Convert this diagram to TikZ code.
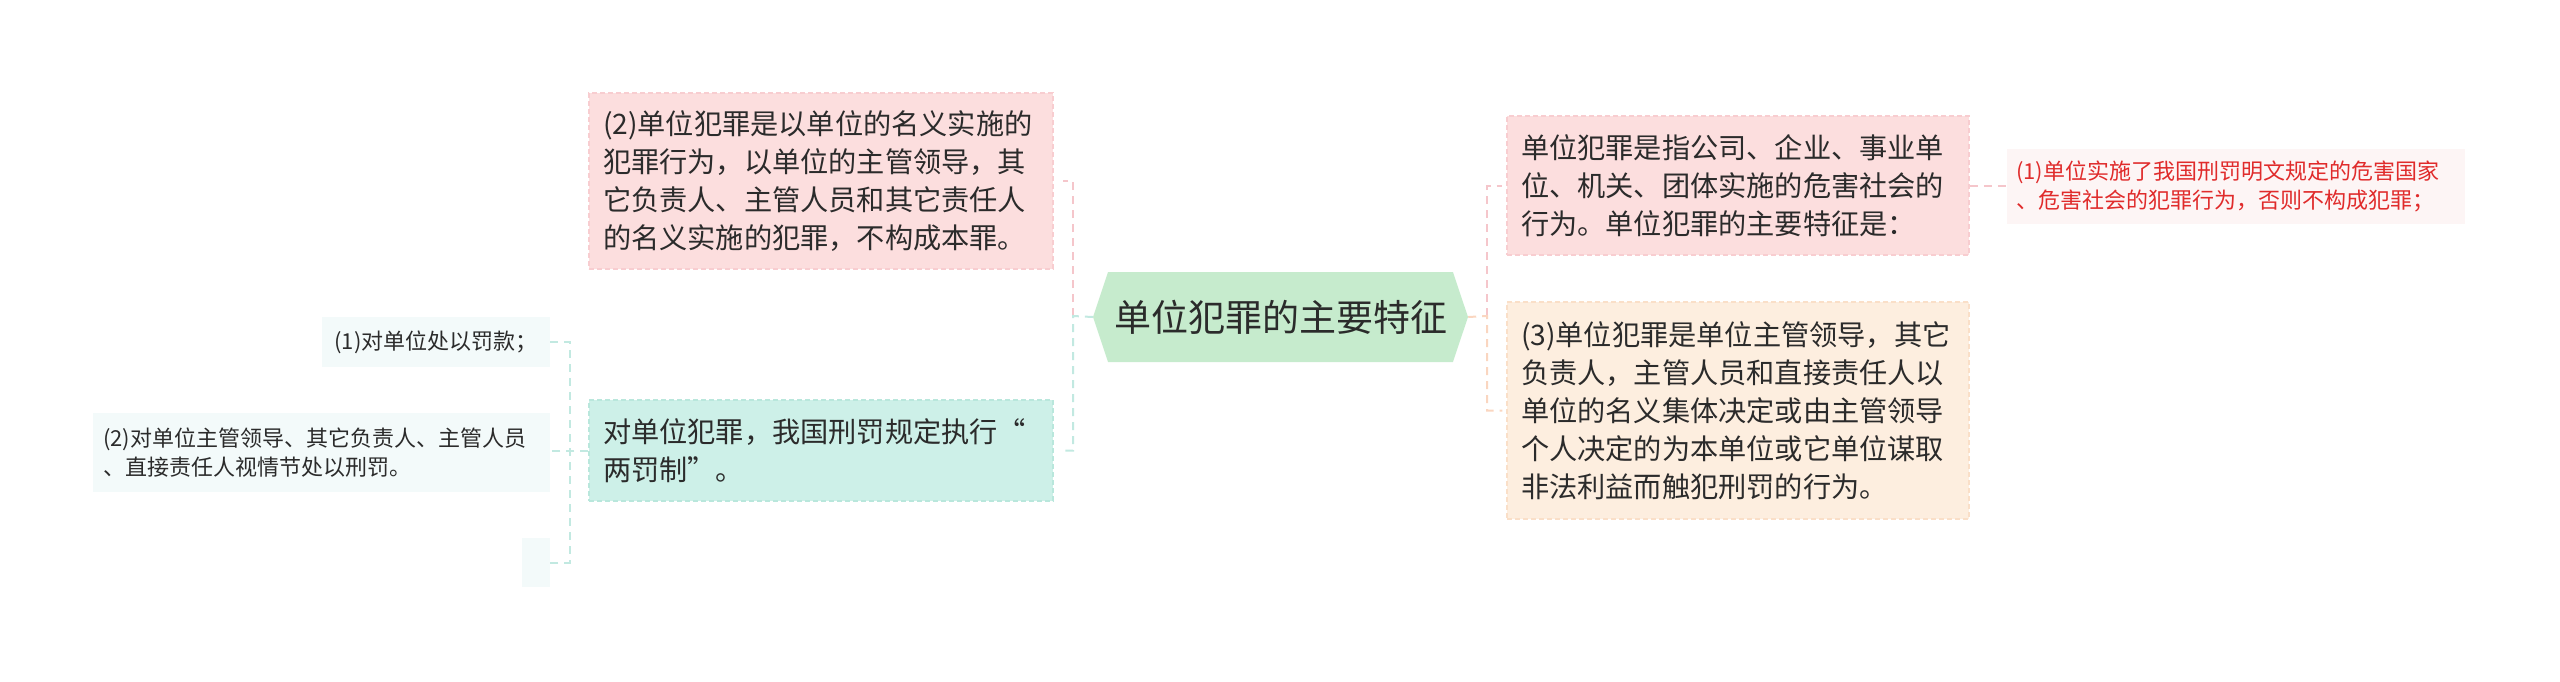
\documentclass[tikz,border=0pt]{standalone}
\usepackage{fontspec}
\setmainfont{Noto Sans CJK SC}
\usetikzlibrary{shapes.symbols}
\definecolor{txt}{HTML}{2B2B2B}
\definecolor{hexfill}{HTML}{C6EBCD}
\definecolor{pinkfill}{HTML}{FCDEDE}
\definecolor{pinkborder}{HTML}{F8CDD0}
\definecolor{pinkline}{HTML}{F5C6CB}
\definecolor{tealfill}{HTML}{CDF0E8}
\definecolor{tealborder}{HTML}{B9E7DC}
\definecolor{tealline}{HTML}{C2E9E1}
\definecolor{orgfill}{HTML}{FDEEDF}
\definecolor{orgborder}{HTML}{FADFC8}
\definecolor{orgline}{HTML}{FAD6C0}
\definecolor{leaffill}{HTML}{F3FAFA}
\definecolor{redfill}{HTML}{FDF5F5}
\definecolor{redtxt}{HTML}{E02B2B}
\begin{document}
\begin{tikzpicture}[x=1pt,y=-1pt,
  box/.style={rectangle, inner sep=0pt, align=left, text=txt,
    font=\fontsize{28.2pt}{38pt}\selectfont, dash pattern=on 5pt off 3pt, line width=1.5pt},
  leaf/.style={rectangle, inner sep=0pt, align=left, text=txt,
    font=\fontsize{22pt}{29pt}\selectfont},
  conn/.style={line width=2pt, dash pattern=on 8pt off 6pt},
]
\useasboundingbox (0,0) rectangle (2560,681);

% central node
\node[signal, signal to=west and east, signal pointer angle=143, fill=hexfill,
  minimum width=375pt, minimum height=90pt, inner sep=0pt, text=txt,
  font=\fontsize{37pt}{42pt}\selectfont] (hex) at (1280.5,317) {单位犯罪的主要特征};

% left branch boxes
\node[box, fill=pinkfill, draw=pinkborder, minimum width=464pt, minimum height=176pt,
  text width=436pt] (b1) at (821,181)
  {(2)单位犯罪是以单位的名义实施的\\犯罪行为，以单位的主管领导，其\\它负责人、主管人员和其它责任人\\的名义实施的犯罪，不构成本罪。};
\node[box, fill=tealfill, draw=tealborder, minimum width=464pt, minimum height=101pt,
  text width=436pt] (b2) at (821,450.5)
  {对单位犯罪，我国刑罚规定执行“\\两罚制”。};

% right branch boxes
\node[box, fill=pinkfill, draw=pinkborder, minimum width=462pt, minimum height=139pt,
  text width=434pt] (b3) at (1738,185.5)
  {单位犯罪是指公司、企业、事业单\\位、机关、团体实施的危害社会的\\行为。单位犯罪的主要特征是：};
\node[box, fill=orgfill, draw=orgborder, minimum width=462pt, minimum height=217pt,
  text width=434pt] (b4) at (1738,410.5)
  {(3)单位犯罪是单位主管领导，其它\\负责人，主管人员和直接责任人以\\单位的名义集体决定或由主管领导\\个人决定的为本单位或它单位谋取\\非法利益而触犯刑罚的行为。};

% leaves
\node[leaf, fill=redfill, text=redtxt, minimum width=458pt, minimum height=75pt,
  text width=440pt] (r1) at (2236,186.5)
  {(1)单位实施了我国刑罚明文规定的危害国家\\、危害社会的犯罪行为，否则不构成犯罪；};
\node[leaf, fill=leaffill, align=center, minimum width=228pt, minimum height=50pt] (l1) at (436,342)
  {(1)对单位处以罚款；};
\node[leaf, fill=leaffill, minimum width=457pt, minimum height=79pt, text width=437pt] (l2) at (321.5,452.5)
  {(2)对单位主管领导、其它负责人、主管人员\\、直接责任人视情节处以刑罚。};
\node[leaf, fill=leaffill, minimum width=28pt, minimum height=49pt] (e1) at (536,562.5) {};

% junctions
\coordinate (jl) at (1073,316);
\coordinate (jr) at (1487,316);
\coordinate (jll) at (570,452);

% connectors
\draw[conn, pinkline] (jl) |- ([xshift=9pt]b1.east);
\draw[conn, tealline] (hex.west) -- (jl) |- ([xshift=9pt]b2.east);
\draw[conn, pinkline] (jr) |- ([xshift=-4pt]b3.west);
\draw[conn, orgline] (hex.east) -- (jr) |- ([xshift=-4pt]b4.west);
\draw[conn, pinkline] (b3.east) -- (r1.west |- b3.east);
\draw[conn, tealline] (l1.east) -| (jll) |- (e1.east);
\draw[conn, tealline] (b2.west) -- (b2.west -| l2.east);
\end{tikzpicture}
\end{document}
